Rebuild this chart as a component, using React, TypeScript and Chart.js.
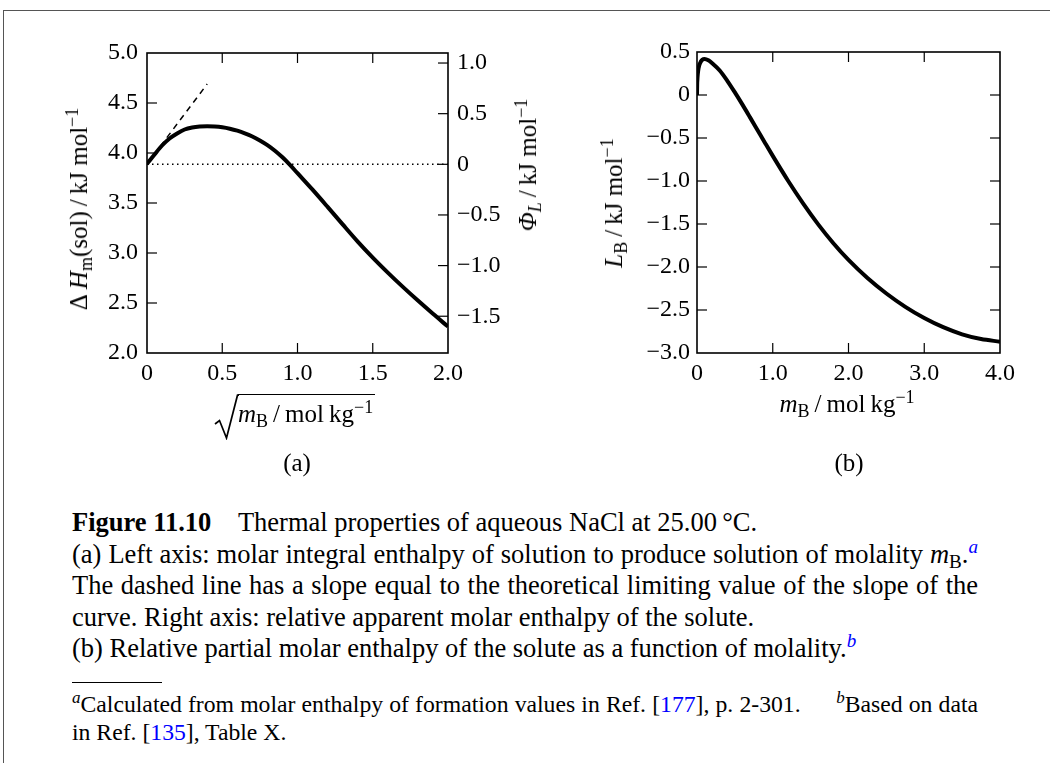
import React, { useEffect, useRef } from "react";
import { Chart, registerables } from "chart.js";

Chart.register(...registerables);

// ---------- panel (a): molar integral enthalpy of solution vs sqrt(mB)
const sqrtMolality = [0, 0.05, 0.1, 0.15, 0.2, 0.25, 0.3, 0.35, 0.4, 0.45, 0.5, 0.55, 0.6, 0.65, 0.7, 0.75, 0.8, 0.85, 0.9, 0.95, 1.0, 1.1, 1.2, 1.3, 1.4, 1.5, 1.6, 1.7, 1.8, 1.9, 2.0];
const enthalpySol = [3.89, 3.985, 4.075, 4.145, 4.195, 4.235, 4.255, 4.265, 4.268, 4.265, 4.257, 4.243, 4.223, 4.197, 4.165, 4.126, 4.079, 4.023, 3.957, 3.881, 3.798, 3.633, 3.461, 3.286, 3.114, 2.954, 2.804, 2.661, 2.524, 2.392, 2.264];
const tangentX = [0, 0.4];
const tangentY = [3.89, 4.69];
const phiZeroX = [0, 2];
const phiZeroY = [0, 0];
const aXTicks = [0, 0.5, 1, 1.5, 2];
const aXLabels = ["0", "0.5", "1.0", "1.5", "2.0"];
const aLeftTicks = [2, 2.5, 3, 3.5, 4, 4.5, 5];
const aLeftLabels = ["2.0", "2.5", "3.0", "3.5", "4.0", "4.5", "5.0"];
const aRightTicks = [-1.5, -1, -0.5, 0, 0.5, 1];
const aRightLabels = ["\u22121.5", "\u22121.0", "\u22120.5", "0", "0.5", "1.0"];
const aRightMin = -1.863;
const aRightMax = 1.099;

// ---------- panel (b): relative partial molar enthalpy vs mB
const molality = [0, 0.002, 0.005, 0.01, 0.02, 0.04, 0.07, 0.1, 0.15, 0.2, 0.3, 0.4, 0.5, 0.6, 0.7, 0.8, 0.9, 1.0, 1.2, 1.4, 1.6, 1.8, 2.0, 2.25, 2.5, 2.75, 3.0, 3.25, 3.5, 3.75, 4.0];
const relPartialH = [0, 0.12, 0.18, 0.24, 0.31, 0.37, 0.41, 0.42, 0.405, 0.37, 0.285, 0.165, 0.03, -0.112, -0.26, -0.41, -0.56, -0.708, -0.994, -1.26, -1.504, -1.724, -1.918, -2.128, -2.308, -2.463, -2.593, -2.7, -2.783, -2.838, -2.868];
const bXTicks = [0, 1, 2, 3, 4];
const bXLabels = ["0", "1.0", "2.0", "3.0", "4.0"];
const bYTicks = [-3, -2.5, -2, -1.5, -1, -0.5, 0, 0.5];
const bYLabels = ["\u22123.0", "\u22122.5", "\u22122.0", "\u22121.5", "\u22121.0", "\u22120.5", "0", "0.5"];

const SERIF = '"Liberation Serif", "Times New Roman", serif';
const TICK_FONT = { family: SERIF, size: 24 };

const frameTicks = {
  id: "frameTicks",
  afterDatasetsDraw(chart: any, _args: any, opts: any) {
    const { ctx, chartArea: a, scales } = chart;
    const L = 10;
    ctx.save();
    ctx.strokeStyle = "#000";
    ctx.lineWidth = 1.2;
    const seg = (x1: number, y1: number, x2: number, y2: number) => {
      ctx.beginPath();
      ctx.moveTo(x1, y1);
      ctx.lineTo(x2, y2);
      ctx.stroke();
    };
    const inner = (s: any) =>
      s.ticks.map((t: any) => t.value).filter((v: number) => v > s.min + 1e-9 && v < s.max - 1e-9);
    const xs = scales.x;
    inner(xs).forEach((v: number) => {
      const p = xs.getPixelForValue(v);
      seg(p, a.bottom, p, a.bottom - L);
      seg(p, a.top, p, a.top + L);
    });
    const yl = scales.y;
    inner(yl).forEach((v: number) => {
      const p = yl.getPixelForValue(v);
      seg(a.left, p, a.left + L, p);
      if (opts.mirror) seg(a.right, p, a.right - L, p);
    });
    if (opts.right) {
      const yr = scales[opts.right];
      inner(yr).forEach((v: number) => {
        const p = yr.getPixelForValue(v);
        seg(a.right, p, a.right - L, p);
      });
    }
    ctx.lineWidth = 1.6;
    ctx.strokeRect(a.left, a.top, a.right - a.left, a.bottom - a.top);
    ctx.restore();
  },
};

function labelFrom(ticks: number[], labels: string[]) {
  return (v: any) => {
    const i = ticks.findIndex((t) => Math.abs(t - Number(v)) < 1e-9);
    return i >= 0 ? labels[i] : "";
  };
}

function axis(ticks: number[], labels: string[], extra: any) {
  return {
    type: "linear",
    afterBuildTicks: (s: any) => {
      s.ticks = ticks.map((v) => ({ value: v }));
    },
    grid: { display: false, drawTicks: false },
    border: { display: false },
    ...extra,
    ticks: {
      callback: labelFrom(ticks, labels),
      font: TICK_FONT,
      color: "#000",
      autoSkip: false,
      maxRotation: 0,
      minRotation: 0,
      padding: extra.pad,
    },
  };
}

const W_A = 560, H_A = 440, W_B = 490, H_B = 440;

function ChartA() {
  const ref = useRef<HTMLCanvasElement>(null);
  useEffect(() => {
    const chart = new Chart(ref.current as HTMLCanvasElement, {
      type: "line",
      data: {
        datasets: [
          {
            data: sqrtMolality.map((x, i) => ({ x, y: enthalpySol[i] })),
            borderColor: "#000",
            borderWidth: 4,
            pointRadius: 0,
            cubicInterpolationMode: "monotone",
            yAxisID: "y",
          },
          {
            data: tangentX.map((x, i) => ({ x, y: tangentY[i] })),
            borderColor: "#000",
            borderWidth: 1.5,
            borderDash: [6, 5],
            pointRadius: 0,
            yAxisID: "y",
          },
          {
            data: phiZeroX.map((x, i) => ({ x, y: phiZeroY[i] })),
            borderColor: "#000",
            borderWidth: 1.4,
            borderDash: [1.5, 3.5],
            pointRadius: 0,
            yAxisID: "y1",
          },
        ],
      } as any,
      options: {
        responsive: false,
        animation: false,
        layout: { padding: { top: 53, left: 0, right: 0, bottom: 0 } },
        plugins: { legend: { display: false }, tooltip: { enabled: false }, frameTicks: { right: "y1" } } as any,
        scales: {
          x: axis(aXTicks, aXLabels, {
            min: 0,
            max: 2,
            pad: 6,
            afterFit: (s: any) => { s.height = H_A - 353; },
          }),
          y: axis(aLeftTicks, aLeftLabels, {
            min: 2,
            max: 5,
            pad: 9,
            position: "left",
            afterFit: (s: any) => { s.width = 147; },
          }),
          y1: axis(aRightTicks, aRightLabels, {
            min: aRightMin,
            max: aRightMax,
            pad: 9,
            position: "right",
            afterFit: (s: any) => { s.width = W_A - 448; },
          }),
        } as any,
      },
      plugins: [frameTicks as any],
    });
    return () => chart.destroy();
  }, []);
  return <canvas ref={ref} width={W_A} height={H_A} style={{ position: "absolute", left: 0, top: 0, width: W_A, height: H_A }} />;
}

function ChartB() {
  const ref = useRef<HTMLCanvasElement>(null);
  useEffect(() => {
    const chart = new Chart(ref.current as HTMLCanvasElement, {
      type: "line",
      data: {
        datasets: [
          {
            data: molality.map((x, i) => ({ x, y: relPartialH[i] })),
            borderColor: "#000",
            borderWidth: 4,
            pointRadius: 0,
            cubicInterpolationMode: "monotone",
          },
        ],
      } as any,
      options: {
        responsive: false,
        animation: false,
        layout: { padding: { top: 52, left: 0, right: 50, bottom: 0 } },
        plugins: { legend: { display: false }, tooltip: { enabled: false }, frameTicks: { mirror: true } } as any,
        scales: {
          x: axis(bXTicks, bXLabels, {
            min: 0,
            max: 4,
            pad: 6,
            afterFit: (s: any) => { s.height = H_B - 353; },
          }),
          y: axis(bYTicks, bYLabels, {
            min: -3,
            max: 0.5,
            pad: 7,
            position: "left",
            afterFit: (s: any) => { s.width = 137; },
          }),
        } as any,
      },
      plugins: [frameTicks as any],
    });
    return () => chart.destroy();
  }, []);
  return <canvas ref={ref} width={W_B} height={H_B} style={{ position: "absolute", left: 560, top: 0, width: W_B, height: H_B }} />;
}

const Sub = ({ children }: any) => (
  <span style={{ fontSize: "0.72em", position: "relative", top: "0.3em" }}>{children}</span>
);
const Sup = ({ children }: any) => (
  <span style={{ fontSize: "0.72em", position: "relative", top: "-0.5em" }}>{children}</span>
);
const Blue = ({ children }: any) => <span style={{ color: "#0000ff" }}>{children}</span>;

function Rotated({ x, y, children }: any) {
  return (
    <div
      style={{
        position: "absolute",
        left: x,
        top: y,
        transform: "translate(-50%, -50%) rotate(-90deg)",
        whiteSpace: "nowrap",
        fontSize: 25,
        lineHeight: "30px",
      }}
    >
      {children}
    </div>
  );
}

function Line({ base, size, lh, justify, children }: any) {
  const asc = size * 0.891;
  const content = size * 1.107;
  const top = base - ((lh - content) / 2 + asc);
  return (
    <div
      style={{
        position: "absolute",
        left: 72,
        width: 906,
        top,
        fontSize: size,
        lineHeight: lh + "px",
        height: lh,
        whiteSpace: "nowrap",
        textAlign: justify ? "justify" : "left",
        textAlignLast: justify ? "justify" : "left",
      } as any}
    >
      {children}
    </div>
  );
}

export default function App() {
  const th = "\u2009";
  const CAP = 26.5;
  const FN = 23.7;
  return (
    <div
      style={{
        position: "absolute",
        left: 0,
        top: 0,
        width: 1050,
        height: 763,
        overflow: "hidden",
        background: "#fff",
        fontFamily: SERIF,
        color: "#000",
      }}
    >
      <div
        style={{
          position: "absolute",
          left: 3,
          top: 10,
          width: 1200,
          height: 900,
          border: "1.6px solid #555",
          boxSizing: "border-box",
        }}
      />
      <ChartA />
      <ChartB />

      {/* panel (a) axis titles */}
      <Rotated x={80} y={209}>
        <span>Δ{th}</span>
        <i>H</i>
        <Sub>m</Sub>
        <span>(sol){th}/{th}kJ mol</span>
        <Sup>−1</Sup>
      </Rotated>
      <Rotated x={529} y={165}>
        <i>Φ</i>
        <Sub>
          <i>L</i>
        </Sub>
        <span>{th}/{th}kJ mol</span>
        <Sup>−1</Sup>
      </Rotated>
      <svg style={{ position: "absolute", left: 214, top: 394 }} width={25} height={46}>
        <polyline points="1,30 5.5,26.5 12.5,44 23.5,1.2 25,1.2" fill="none" stroke="#000" strokeWidth={1.7} />
      </svg>
      <div
        style={{
          position: "absolute",
          left: 238,
          top: 394,
          borderTop: "1.7px solid #000",
          fontSize: 25,
          lineHeight: "30px",
          paddingTop: 4,
          paddingRight: 2,
          whiteSpace: "nowrap",
        }}
      >
        <i>m</i>
        <Sub>B</Sub>
        <span>{th}/{th}mol{th}kg</span>
        <Sup>−1</Sup>
      </div>
      <div style={{ position: "absolute", left: 297, top: 463, transform: "translate(-50%,-50%)", fontSize: 25 }}>(a)</div>

      {/* panel (b) axis titles */}
      <Rotated x={615} y={203}>
        <i>L</i>
        <Sub>B</Sub>
        <span>{th}/{th}kJ mol</span>
        <Sup>−1</Sup>
      </Rotated>
      <div
        style={{
          position: "absolute",
          left: 847,
          top: 405,
          transform: "translate(-50%,-50%)",
          fontSize: 25,
          lineHeight: "30px",
          whiteSpace: "nowrap",
        }}
      >
        <i>m</i>
        <Sub>B</Sub>
        <span>{th}/{th}mol{th}kg</span>
        <Sup>−1</Sup>
      </div>
      <div style={{ position: "absolute", left: 849, top: 463, transform: "translate(-50%,-50%)", fontSize: 25 }}>(b)</div>

      {/* caption */}
      <Line base={531.5} size={CAP} lh={31}>
        <b>Figure 11.10</b>
        {"\u2003"}Thermal properties of aqueous NaCl at 25.00{th}°C.
      </Line>
      <Line base={563} size={CAP} lh={31} justify>
        (a) Left axis: molar integral enthalpy of solution to produce solution of molality <i>m</i>
        <Sub>B</Sub>.
        <Sup>
          <Blue>
            <i>a</i>
          </Blue>
        </Sup>
      </Line>
      <Line base={594.5} size={CAP} lh={31} justify>
        The dashed line has a slope equal to the theoretical limiting value of the slope of the
      </Line>
      <Line base={626} size={CAP} lh={31}>
        curve. Right axis: relative apparent molar enthalpy of the solute.
      </Line>
      <Line base={657} size={CAP} lh={31}>
        (b) Relative partial molar enthalpy of the solute as a function of molality.
        <Sup>
          <Blue>
            <i>b</i>
          </Blue>
        </Sup>
      </Line>
      <div style={{ position: "absolute", left: 72, top: 682, width: 90, borderTop: "1.3px solid #000" }} />
      <Line base={711.5} size={FN} lh={28} justify>
        <Sup>
          <i>a</i>
        </Sup>
        Calculated from molar enthalpy of formation values in Ref. [<Blue>177</Blue>], p. 2-301.{"\u2003\u2002"}
        <Sup>
          <i>b</i>
        </Sup>
        Based on data
      </Line>
      <Line base={740} size={FN} lh={28}>
        in Ref. [<Blue>135</Blue>], Table X.
      </Line>
    </div>
  );
}
